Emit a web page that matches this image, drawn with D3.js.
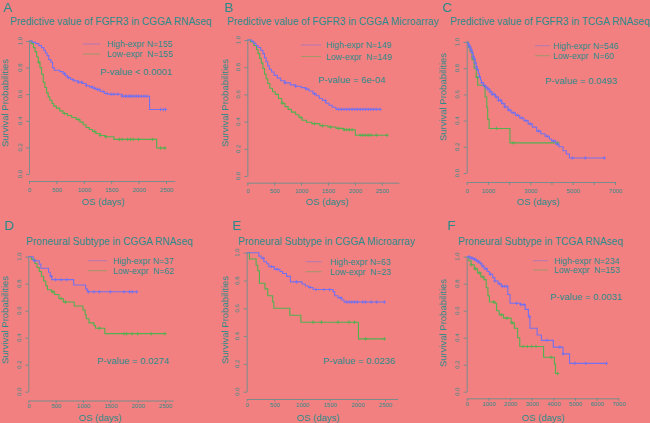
<!DOCTYPE html>
<html><head><meta charset="utf-8">
<script src="https://cdn.jsdelivr.net/npm/d3@7"></script>
<style>body{margin:0;padding:0;overflow:hidden}svg{display:block}</style>
</head><body>
<script>
// ---------------- DATA ----------------
const panelLetters = ["A","B","C","D","E","F"];
const panelTitles = [
  "Predictive value of FGFR3 in CGGA RNAseq",
  "Predictive value of FGFR3 in CGGA Microarray",
  "Predictive value of FGFR3 in TCGA RNAseq",
  "Proneural Subtype in CGGA RNAseq",
  "Proneural Subtype in CGGA Microarray",
  "Proneural Subtype in TCGA RNAseq"
];
const highN = [155,149,546,37,63,234];
const lowN  = [155,149,60,62,23,153];
const pValues = ["P-value < 0.0001","P-value = 6e-04","P-value = 0.0493","P-value = 0.0274","P-value = 0.0236","P-value = 0.0031"];
const xTicksShort = [0,500,1000,1500,2000,2500];
const xTicksLong = [0,1000,2000,3000,4000,5000,6000,7000];
const yTicks = [0,0.2,0.4,0.6,0.8,1.0];
const xTitle = "OS (days)";
const yTitle = "Survival Probabilities";

// survival step points [time, survival] and censor times
const highA = [[0,1],[60,0.99],[120,0.98],[180,0.965],[230,0.95],[270,0.93],[300,0.91],[330,0.89],[360,0.86],[400,0.84],[430,0.80],[460,0.78],[560,0.77],[620,0.755],[660,0.74],[700,0.725],[760,0.71],[820,0.70],[900,0.69],[980,0.68],[1040,0.665],[1100,0.655],[1160,0.645],[1220,0.635],[1300,0.62],[1380,0.605],[1450,0.60],[1700,0.585],[2200,0.485],[2490,0.485]];
const highACens = [650,720,800,900,960,1050,1150,1200,1250,1280,1350,1420,1500,1550,1620,1700,1750,1780,1820,1850,1880,1920,1960,2000,2050,2100,2150,2400,2450,2490];
const lowA = [[0,1],[40,0.98],[80,0.95],[110,0.92],[140,0.88],[170,0.84],[200,0.80],[230,0.75],[260,0.69],[290,0.65],[320,0.61],[350,0.58],[380,0.555],[420,0.53],[450,0.51],[500,0.495],[560,0.475],[620,0.455],[700,0.44],[780,0.425],[860,0.41],[930,0.39],[990,0.37],[1040,0.35],[1100,0.335],[1160,0.32],[1220,0.305],[1300,0.29],[1400,0.28],[1550,0.26],[2330,0.195],[2500,0.195]];
const lowACens = [180,650,900,1200,1300,1400,1650,1700,1800,1850,1900,2000,2250,2400,2480];

const highB = [[0,1],[80,0.99],[120,0.975],[160,0.96],[200,0.945],[250,0.925],[290,0.90],[320,0.87],[350,0.84],[380,0.81],[410,0.785],[450,0.765],[500,0.74],[560,0.72],[620,0.70],[700,0.685],[800,0.67],[900,0.66],[1000,0.65],[1080,0.64],[1150,0.625],[1220,0.605],[1280,0.59],[1340,0.57],[1400,0.555],[1460,0.535],[1520,0.52],[1580,0.505],[1650,0.49],[2470,0.49]];
const highBCens = [700,900,1100,1250,1450,1700,1750,1800,1850,1900,1950,2000,2050,2100,2150,2200,2250,2300,2350,2400,2470];
const lowB = [[0,1],[60,0.985],[120,0.96],[170,0.93],[200,0.90],[230,0.865],[260,0.83],[290,0.79],[320,0.75],[350,0.715],[380,0.68],[420,0.645],[470,0.62],[520,0.60],[580,0.57],[640,0.535],[700,0.51],[760,0.49],[820,0.47],[900,0.45],[960,0.43],[1020,0.41],[1100,0.395],[1200,0.385],[1350,0.37],[1500,0.36],[1650,0.35],[1800,0.34],[2010,0.30],[2600,0.30]];
const lowBCens = [650,1000,1250,1400,1550,1700,1800,1850,1900,1950,2100,2150,2200,2250,2300,2400,2600];

const highC = [[0,1],[50,0.99],[100,0.975],[150,0.96],[200,0.94],[250,0.92],[300,0.89],[350,0.87],[400,0.84],[450,0.81],[500,0.79],[550,0.76],[600,0.735],[650,0.71],[700,0.69],[800,0.67],[900,0.655],[1000,0.64],[1100,0.62],[1200,0.60],[1350,0.58],[1500,0.555],[1650,0.53],[1800,0.505],[1950,0.48],[2100,0.46],[2300,0.44],[2500,0.42],[2700,0.40],[2900,0.375],[3100,0.35],[3300,0.32],[3500,0.30],[3700,0.28],[3900,0.26],[4000,0.245],[4200,0.22],[4350,0.20],[4550,0.17],[4700,0.145],[4850,0.115],[6500,0.115]];
const highCCens = [100,150,200,250,300,350,400,450,500,600,700,800,900,1000,1100,1200,1300,1400,1500,1600,1700,1800,2000,2200,2400,2600,2800,3000,3400,3800,4100,4300,5000,5600,6500];
const lowC = [[0,1],[80,0.96],[150,0.93],[250,0.87],[350,0.80],[450,0.73],[520,0.67],[800,0.66],[870,0.58],[950,0.50],[990,0.41],[1060,0.34],[2040,0.23],[4300,0.23]];
const lowCCens = [300,500,1400,2200,4300];

const highD = [[0,1],[90,0.97],[200,0.945],[230,0.915],[370,0.885],[400,0.855],[430,0.83],[830,0.79],[1050,0.76],[1080,0.74],[1980,0.74]];
const highDCens = [120,420,500,600,700,1100,1200,1300,1500,1750,1850,1900,1980];
const lowD = [[0,1],[60,0.98],[120,0.95],[160,0.92],[200,0.89],[240,0.855],[280,0.82],[320,0.785],[350,0.755],[420,0.74],[480,0.72],[560,0.69],[640,0.665],[840,0.635],[1000,0.605],[1040,0.57],[1060,0.54],[1110,0.51],[1200,0.49],[1230,0.47],[1400,0.43],[2500,0.43]];
const lowDCens = [450,600,680,1300,1750,1800,1900,2000,2250,2500];

const highE = [[0,1],[220,0.975],[260,0.96],[310,0.935],[360,0.92],[400,0.90],[500,0.88],[600,0.865],[650,0.85],[720,0.83],[790,0.79],[1000,0.775],[1060,0.76],[1120,0.75],[1200,0.735],[1560,0.72],[1590,0.69],[1650,0.675],[1720,0.66],[1760,0.645],[2490,0.645]];
const highECens = [300,450,550,900,1150,1250,1400,1500,1700,1800,1850,1900,1950,2000,2100,2150,2250,2350,2490];
const lowE = [[0,1],[50,0.955],[170,0.91],[200,0.87],[230,0.78],[330,0.74],[380,0.69],[470,0.645],[490,0.60],[780,0.55],[980,0.50],[2020,0.38],[2490,0.38]];
const lowECens = [1200,1350,1650,1850,1950,2150,2490];

const highF = [[0,1],[150,0.99],[300,0.98],[450,0.965],[600,0.95],[700,0.93],[800,0.91],[950,0.89],[1050,0.87],[1200,0.845],[1300,0.82],[1450,0.80],[1600,0.78],[1900,0.72],[2000,0.655],[2500,0.645],[2700,0.61],[2850,0.555],[2920,0.47],[3250,0.42],[3450,0.38],[4000,0.33],[4450,0.28],[4750,0.21],[6450,0.21]];
const highFCens = [100,200,250,350,400,500,550,650,750,900,1100,1300,1500,1650,1750,1850,2300,2500,2650,2900,3700,4300,4450,5000,5500,6450];
const lowF = [[0,1],[100,0.97],[200,0.94],[350,0.91],[500,0.88],[650,0.85],[800,0.83],[900,0.77],[980,0.71],[1050,0.665],[1300,0.655],[1380,0.60],[1500,0.57],[1700,0.545],[2050,0.51],[2200,0.47],[2350,0.40],[2450,0.335],[3550,0.255],[4050,0.205],[4100,0.135],[4200,0.135]];
const lowFCens = [200,400,600,750,1250,1600,1850,2100,2600,2800,3000,3200,3900,4200];

const highCurves = [highA,highB,highC,highD,highE,highF];
const highCens = [highACens,highBCens,highCCens,highDCens,highECens,highFCens];
const lowCurves = [lowA,lowB,lowC,lowD,lowE,lowF];
const lowCens = [lowACens,lowBCens,lowCCens,lowDCens,lowECens,lowFCens];

// ---------------- LAYOUT ----------------
const W = 650, H = 423;
const BG = "#F28080", TEXT = "#2B8B8B", AXIS = "#5C8E8E", BLUE = "#7570EE", GREEN = "#52B04F";
const FONT = "'Liberation Sans', Arial, Helvetica, sans-serif";

const layouts = [
  {x0:29,   x1:166,   xRef:2500, xEnd:2660, long:false, yTop:41,    yBot:174,   axisY:181,   tk:3,   pad:4,   letter:[3,12],    titleX:10,  titleY:25,  ylab:[5,103],   osX:103, osY:204.5, legX1:83,  legX2:100, legY:[44,54],     legTX:107, pX:100, pY:74.5},
  {x0:247.3,x1:381.7, xRef:2500, xEnd:2820, long:false, yTop:40,    yBot:176,   axisY:182.7, tk:3,   pad:3.5, letter:[224,12],  titleX:227, titleY:25,  ylab:[225,103], osX:327, osY:204.5, legX1:301, legX2:321, legY:[45,56.5],   legTX:326, pX:318, pY:82.5},
  {x0:466.7,x1:615,   xRef:7000, xEnd:7000, long:true,  yTop:42,    yBot:173,   axisY:182,   tk:3,   pad:3.5, letter:[442,12],  titleX:450, titleY:25,  ylab:[443,97],  osX:538, osY:204.5, legX1:535, legX2:550, legY:[45.7,55.7], legTX:553, pX:545, pY:83.5},
  {x0:28.3, x1:165,   xRef:2500, xEnd:2650, long:false, yTop:256.7, yBot:391.7, axisY:400.5, tk:2.5, pad:1,   letter:[4,230],   titleX:26,  titleY:245, ylab:[5,320],   osX:100, osY:421,   legX1:88,  legX2:107, legY:[260.7,270.7], legTX:113, pX:97,  pY:364},
  {x0:246.7,x1:385,   xRef:2500, xEnd:2730, long:false, yTop:252.7, yBot:391.7, axisY:399,   tk:2.5, pad:1,   letter:[232,230], titleX:238, titleY:245, ylab:[225,320], osX:318, osY:421,   legX1:305.7,legX2:321.7,legY:[261.7,271.7],legTX:330, pX:323, pY:363.5},
  {x0:466.7,x1:618.3, xRef:7000, xEnd:7000, long:true,  yTop:256.7, yBot:391.7, axisY:398.3, tk:2.5, pad:1,   letter:[447,230], titleX:458, titleY:245, ylab:[443,323], osX:543, osY:421,   legX1:533, legX2:548, legY:[260.7,270],  legTX:554, pX:550, pY:299.5}
];

const svg = d3.select("body").append("svg").attr("width", W).attr("height", H)
  .style("font-family", FONT);
svg.append("rect").attr("width", W).attr("height", H).attr("fill", BG);

function survAt(curve, t) {
  let s = 1;
  for (const [ti, si] of curve) { if (ti <= t) s = si; else break; }
  return s;
}

layouts.forEach((L, i) => {
  const g = svg.append("g");
  const xEndPx = L.x0 + (L.x1 - L.x0) * L.xEnd / L.xRef;
  const x = d3.scaleLinear().domain([0, L.xEnd]).range([L.x0, xEndPx]);
  const y = d3.scaleLinear().domain([0, 1]).range([L.yBot, L.yTop]);

  // panel letter
  g.append("text").attr("x", L.letter[0]).attr("y", L.letter[1])
    .attr("font-size", 13.5).attr("fill", TEXT).text(panelLetters[i]);
  // title
  g.append("text").attr("x", L.titleX).attr("y", L.titleY)
    .attr("font-size", 10.1).attr("fill", TEXT).text(panelTitles[i]);

  // x axis
  const ticks = L.long ? xTicksLong : xTicksShort;
  const xAxis = d3.axisBottom(x).tickValues(ticks).tickSize(L.tk).tickSizeOuter(0).tickPadding(L.pad)
    .tickFormat(d => (i === 2 && (d === 2000 || d === 4000 || d === 6000)) ? "" : String(d));
  const gx = g.append("g").attr("transform", `translate(0,${L.axisY})`).call(xAxis);
  gx.select(".domain").attr("stroke", AXIS).attr("stroke-width", 0.8);
  gx.selectAll(".tick line").attr("stroke", AXIS).attr("stroke-width", 0.8);
  gx.selectAll(".tick text").attr("fill", TEXT).attr("font-size", 6).attr("font-family", FONT);

  // y axis
  const yAxis = d3.axisLeft(y).tickValues(yTicks).tickSize(3).tickSizeOuter(0).tickFormat(() => "");
  const gy = g.append("g").attr("transform", `translate(${L.x0},0)`).call(yAxis);
  gy.select(".domain").attr("stroke", AXIS).attr("stroke-width", 0.8);
  gy.selectAll(".tick line").attr("stroke", AXIS).attr("stroke-width", 0.8);
  yTicks.forEach(v => {
    g.append("text").attr("transform", `translate(${L.x0 - 7.5},${y(v)}) rotate(-90)`)
      .attr("text-anchor", "middle").attr("font-size", 6).attr("fill", TEXT)
      .text(d3.format(".1f")(v));
  });

  // axis titles
  g.append("text").attr("x", L.osX).attr("y", L.osY).attr("text-anchor", "middle")
    .attr("font-size", 9.5).attr("fill", TEXT).text(xTitle);
  g.append("text").attr("transform", `translate(${L.ylab[0] + 3.3},${L.ylab[1]}) rotate(-90)`)
    .attr("text-anchor", "middle").attr("font-size", 9.5).attr("fill", TEXT).text(yTitle);

  // curves
  const line = d3.line().x(d => x(d[0])).y(d => y(d[1])).curve(d3.curveStepAfter);
  [[lowCurves[i], lowCens[i], GREEN], [highCurves[i], highCens[i], BLUE]].forEach(([c, cens, col]) => {
    g.append("path").attr("d", line(c)).attr("fill", "none").attr("stroke", col).attr("stroke-width", 1.1);
    cens.forEach(t => {
      const cx = x(t), cy = y(survAt(c, t));
      g.append("path").attr("d", `M${cx-1.7},${cy}h3.4M${cx},${cy-1.7}v3.4`)
        .attr("stroke", col).attr("stroke-width", 0.9);
    });
  });

  // legend
  const legItems = [[`High-expr N=${highN[i]}`, BLUE], [`Low-expr  N=${lowN[i]}`, GREEN]];
  legItems.forEach(([lab, col], k) => {
    g.append("line").attr("x1", L.legX1).attr("x2", L.legX2).attr("y1", L.legY[k]).attr("y2", L.legY[k])
      .attr("stroke", col).attr("stroke-width", 0.7).attr("opacity", 0.7);
    g.append("text").attr("x", L.legTX).attr("y", L.legY[k] + 3).attr("font-size", 8.6)
      .attr("fill", TEXT).attr("xml:space", "preserve").style("white-space", "pre").text(lab);
  });

  // p-value
  g.append("text").attr("x", L.pX).attr("y", L.pY).attr("font-size", 9.5).attr("fill", TEXT).text(pValues[i]);
});
</script>
</body></html>
